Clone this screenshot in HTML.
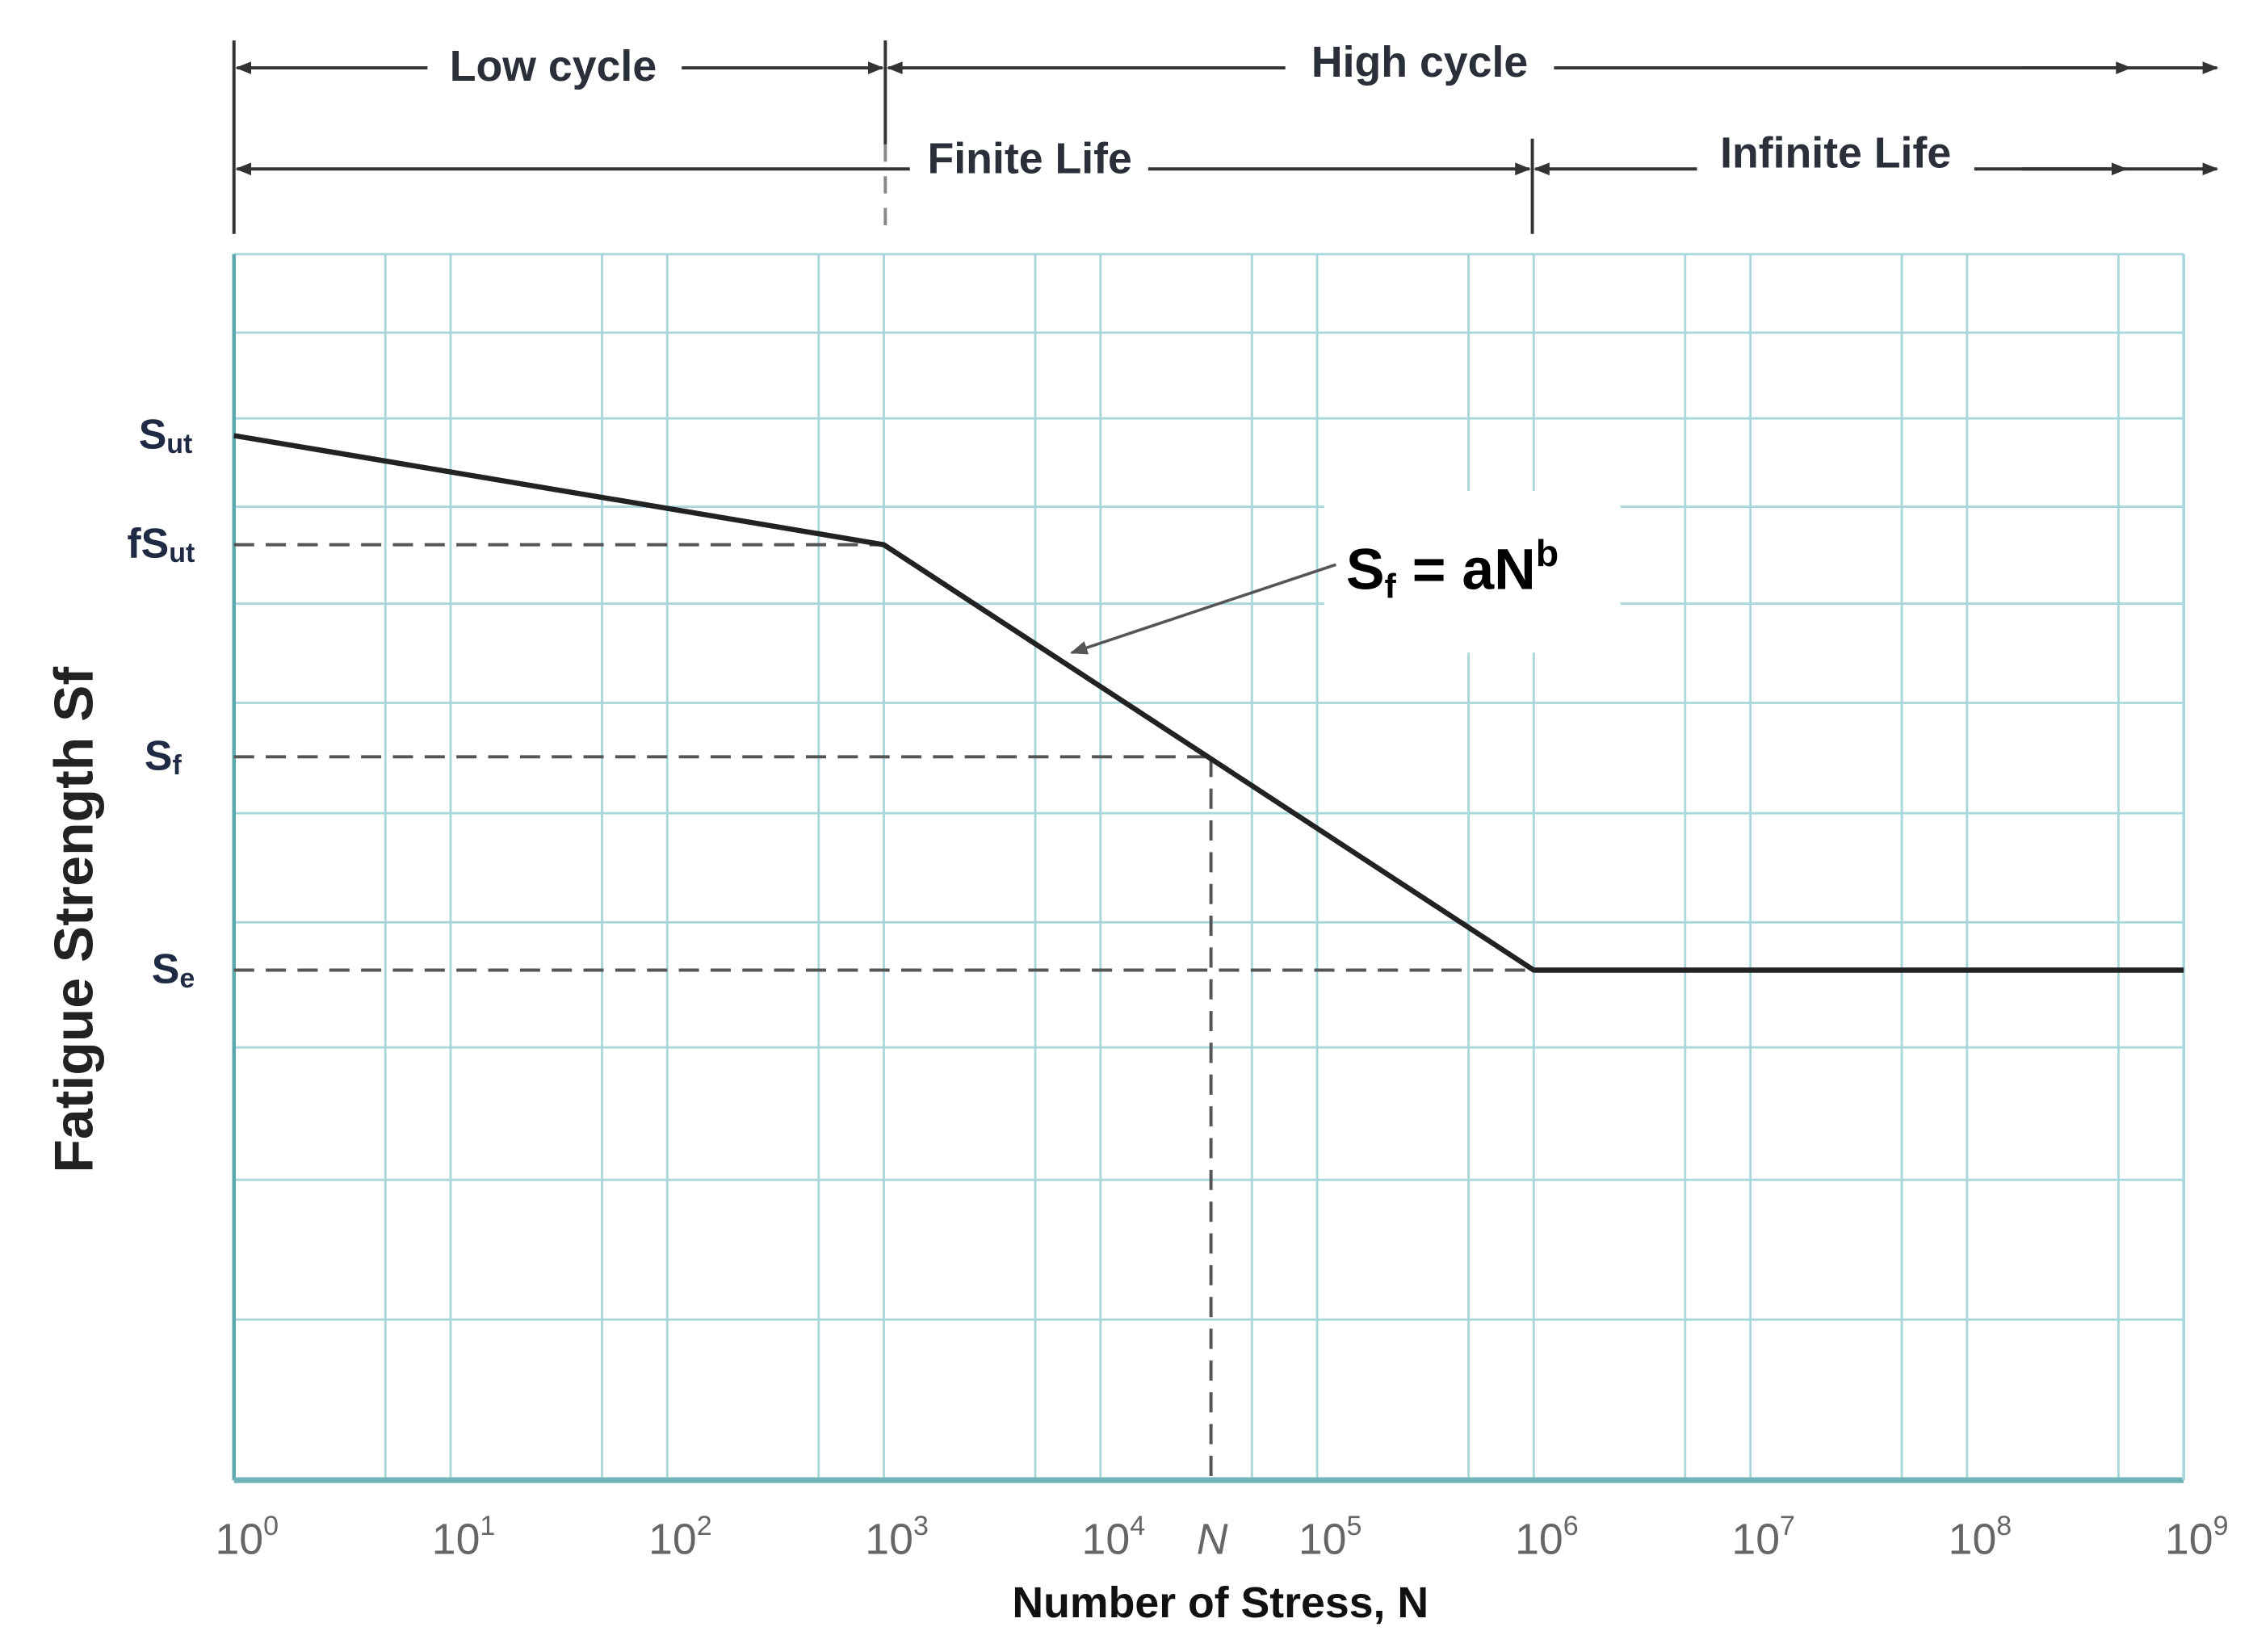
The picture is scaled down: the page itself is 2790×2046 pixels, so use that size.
<!DOCTYPE html>
<html><head><meta charset="utf-8"><style>
html,body{margin:0;padding:0;background:#fff;}
svg{display:block;}
text{font-family:"Liberation Sans",sans-serif;}
#chart{position:absolute;left:0;top:0}
</style></head><body>
<svg id="chart" width="2790" height="2046" viewBox="0 0 1560 1144" preserveAspectRatio="none" xmlns="http://www.w3.org/2000/svg">
<g id="grid"></g>
<g id="marks"></g>
<g id="annot"></g>
</svg>
<script>
// data
const decadeExponents = [0,1,2,3,4,5,6,7,8,9];
const tickLabels = ["0","1","2","3","4","5","6","7","8","9"];
const gridStrengthLevels = [100,93.6,86.6,79.4,71.5,63.4,54.4,45.5,35.3,24.5,13.1];
const curveLogN = [0,3,6,9];
const curveStrength = [85.2,76.3,41.6,41.6];
const levelNames = ["Sut","fSut","Sf","Se"];
const levelStrength = [85.2,76.3,59.0,41.6];
const levelLogN = [0,3,4.51,6];
const nLogN = 4.51;

const L=162,R=1512,T=176,B=1025;
const xs = v => L + (R-L)*v/9;
const ys = v => B - (B-T)*v/100;
const NS="http://www.w3.org/2000/svg";
function mk(tag,parent,attrs){const e=document.createElementNS(NS,tag);for(const k in attrs)e.setAttribute(k,attrs[k]);parent.appendChild(e);return e;}
const grid=document.getElementById('grid'),marks=document.getElementById('marks'),annot=document.getElementById('annot');
const gc="#a9d8dc";

decadeExponents.forEach((d,i)=>{
  const x=xs(d);
  let ln=mk('line',grid,{x1:x,y1:T,x2:x,y2:B,stroke:gc,'stroke-width':1.6});
  
  
  if(d<9){
    const x5=xs(d+Math.log10(5));
    let l5=mk('line',grid,{x1:x5,y1:T,x2:x5,y2:B,stroke:gc,'stroke-width':1.6});
    
    
  }
  const t=mk('text',grid,{x:x-13,y:1076,'font-family':'Liberation Serif, serif','font-size':30,fill:'#666'});
  t.textContent='10';
  const s=mk('tspan',t,{dy:-13,'font-size':19});
  s.textContent=tickLabels[i];
  
  
});
gridStrengthLevels.forEach(v=>{
  const y=ys(v);
  const ln=mk('line',grid,{x1:L,y1:y,x2:R,y2:y,stroke:gc,'stroke-width':1.6});
  
  
});
let ax=mk('line',grid,{x1:L,y1:T,x2:L,y2:B,stroke:'#5aa8b0','stroke-width':2.5});


let bx=mk('line',grid,{x1:L,y1:B,x2:R,y2:B,stroke:'#6fb2b8','stroke-width':4});


let rx=mk('line',grid,{x1:R,y1:T,x2:R,y2:B,stroke:gc,'stroke-width':2});



levelNames.forEach((n,i)=>{
  if(n==='Sut')return;
  const y=ys(levelStrength[i]);
  const d=mk('line',marks,{x1:L,y1:y,x2:xs(levelLogN[i]),y2:y,stroke:'#555','stroke-width':2.2,'stroke-dasharray':'14,8'});
  
  
});
let vd=mk('line',marks,{x1:xs(nLogN),y1:ys(levelStrength[2]),x2:xs(nLogN),y2:B,stroke:'#555','stroke-width':2.2,'stroke-dasharray':'14,8'});



const pts=curveLogN.map((v,i)=>xs(v)+','+ys(curveStrength[i])).join(' ');
let pl=mk('polyline',marks,{points:pts,fill:'none',stroke:'#222','stroke-width':3.6});



const lblPos=[{x:96,sub:'ut',main:'S'},{x:88,sub:'ut',main:'fS'},{x:100,sub:'f',main:'S'},{x:105,sub:'e',main:'S'}];
levelNames.forEach((n,i)=>{
  const y=ys(levelStrength[i])+9;
  const t=mk('text',annot,{x:lblPos[i].x,y:y,'font-size':29,'font-weight':'bold',fill:'#1f2a44'});
  t.textContent=lblPos[i].main;
  const s=mk('tspan',t,{'font-size':19,dy:3});s.textContent=lblPos[i].sub;
  
  
});
let nl=mk('text',annot,{x:xs(nLogN)-10,y:1076,'font-family':'Liberation Serif, serif','font-style':'italic','font-size':30,fill:'#666'});
nl.textContent='N';


</script>
<svg style="position:absolute;left:0;top:0" width="2790" height="2046" viewBox="0 0 1560 1144" preserveAspectRatio="none" xmlns="http://www.w3.org/2000/svg">
<defs>
<marker id="a1" viewBox="0 0 10 10" refX="9" refY="5" markerWidth="6" markerHeight="5" orient="auto-start-reverse"><path d="M0,1 L10,5 L0,9 z" fill="#333"/></marker>
<marker id="a3" viewBox="0 0 10 10" refX="9" refY="5" markerWidth="7" markerHeight="6" orient="auto"><path d="M0,1 L10,5 L0,9 z" fill="#555"/></marker>
</defs>
<g stroke="#333" stroke-width="2.2" fill="none">
<line x1="162" y1="28" x2="162" y2="162"/>
<line x1="613" y1="28" x2="613" y2="100"/>
<line x1="613" y1="100" x2="613" y2="162" stroke="#888" stroke-dasharray="12,10"/>
<line x1="1061" y1="96" x2="1061" y2="162"/>
<line x1="164" y1="47" x2="611" y2="47" marker-start="url(#a1)" marker-end="url(#a1)"/>
<line x1="615" y1="47" x2="1535" y2="47" marker-start="url(#a1)" marker-end="url(#a1)"/>
<line x1="1400" y1="47" x2="1475" y2="47" marker-end="url(#a1)"/>
<line x1="164" y1="117" x2="1059" y2="117" marker-start="url(#a1)" marker-end="url(#a1)"/>
<line x1="1063" y1="117" x2="1535" y2="117" marker-start="url(#a1)" marker-end="url(#a1)"/>
<line x1="1400" y1="117" x2="1472" y2="117" marker-end="url(#a1)"/>
</g>
<g font-family="Liberation Sans, sans-serif" font-weight="bold" font-size="30" fill="#2b2f3a">
<rect x="296" y="25" width="176" height="40" fill="#fff"/>
<text x="383" y="56" text-anchor="middle">Low cycle</text>
<rect x="890" y="22" width="186" height="40" fill="#fff"/>
<text x="983" y="53" text-anchor="middle">High cycle</text>
<rect x="630" y="90" width="165" height="40" fill="#fff"/>
<text x="713" y="120" text-anchor="middle">Finite Life</text>
<rect x="1175" y="86" width="192" height="40" fill="#fff"/>
<text x="1271" y="116" text-anchor="middle">Infinite Life</text>
</g>
<rect x="917" y="340" width="205" height="112" fill="#fff"/>
<line x1="925" y1="391" x2="742" y2="452" stroke="#555" stroke-width="2" marker-end="url(#a3)"/>
<text x="932" y="408" font-family="Liberation Sans, sans-serif" font-weight="bold" font-size="40" fill="#000">S<tspan font-size="24" dy="6">f</tspan><tspan dy="-6"> = aN</tspan><tspan font-size="26" dy="-16">b</tspan></text>
<text transform="translate(64,637) rotate(-90)" text-anchor="middle" font-family="Liberation Sans, sans-serif" font-weight="bold" font-size="38" fill="#222">Fatigue Strength Sf</text>
<text x="845" y="1120" text-anchor="middle" font-family="Liberation Sans, sans-serif" font-weight="bold" font-size="30" fill="#111">Number of Stress, N</text>
</svg>
</body></html>
